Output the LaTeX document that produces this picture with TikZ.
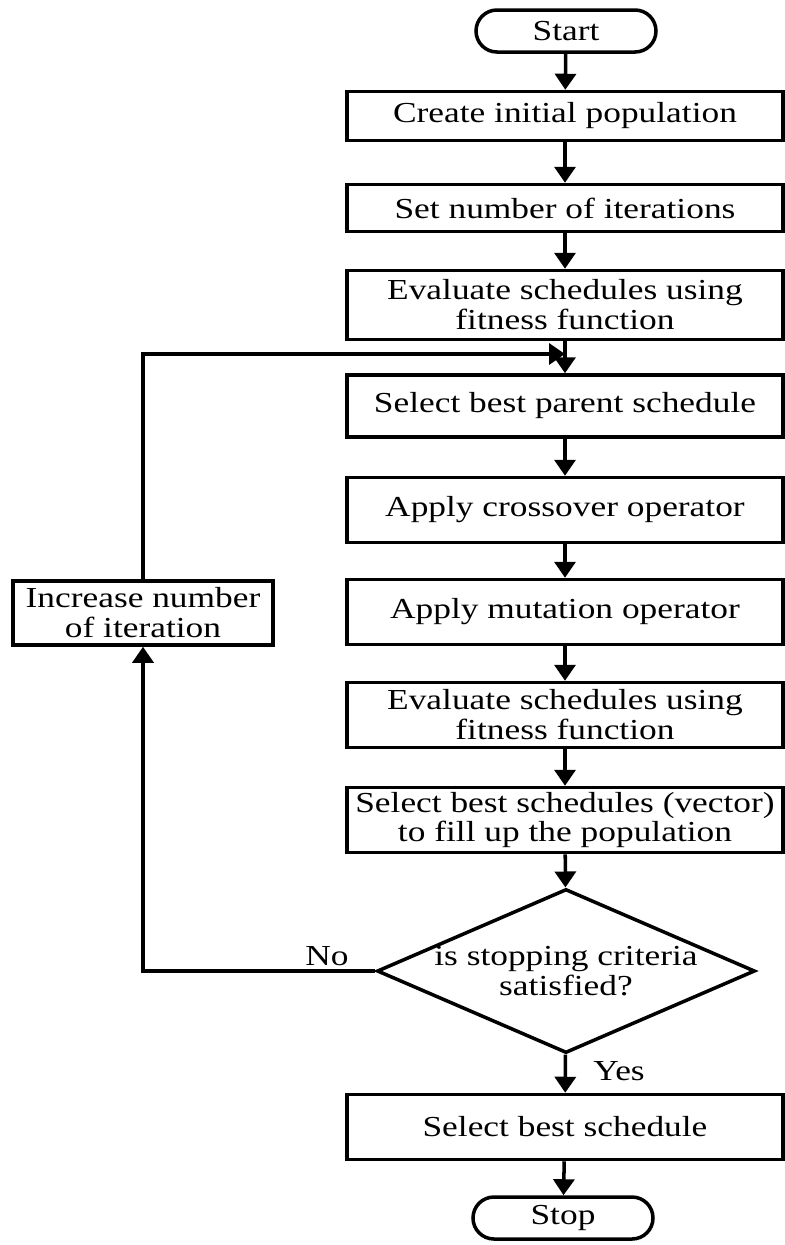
\documentclass[tikz,border=0pt]{standalone}
\usepackage{fontspec}
\setmainfont{Liberation Serif}[FakeStretch=1.22]
\usepackage{tikz}
\usetikzlibrary{arrows.meta, shapes.geometric}

\tikzset{
	txt/.style={font=\fontsize{16.5}{17}\selectfont},
	proc/.style={txt, draw, line width=2pt, minimum width=8.72cm, align=center, inner sep=2pt},
	term/.style={txt, draw, line width=2pt, rounded corners=0.42cm, minimum width=3.6cm, minimum height=0.84cm},
	decide/.style={txt, draw, line width=2pt, shape=diamond, aspect=2.3, align=center, inner xsep=-5pt, inner ysep=-1pt, minimum width=7.56cm, minimum height=3.28cm},
	flow/.style={line width=2pt, -{Triangle[length=0.32cm, width=0.42cm]}}
}

\begin{document}
\begin{tikzpicture}[x=0.2mm, y=-0.2mm]
	\useasboundingbox (0,0) rectangle (785,1245);
	% Nodes:
	\node[term] (start) at (566, 31){Start};
	\node[proc, minimum height=0.98cm] (init) at (565, 116){Create initial population};
	\node[proc, minimum height=0.94cm] (iter) at (565, 208){Set number of iterations};
	\node[proc, minimum height=1.38cm] (eval1) at (565, 305){Evaluate schedules using\\fitness function};
	\node[proc, minimum height=1.24cm] (parent) at (565, 406){Select best parent schedule};
	\node[proc, minimum height=1.3cm] (cross) at (565, 510){Apply crossover operator};
	\node[proc, minimum height=1.3cm] (mut) at (565, 612){Apply mutation operator};
	\node[proc, minimum height=1.3cm] (eval2) at (565, 715){Evaluate schedules using\\fitness function};
	\node[proc, minimum height=1.3cm] (fill) at (565, 820){Select best schedules (vector)\\to fill up the population};
	\node[decide] (crit) at (566, 971){is stopping criteria\\satisfied?};
	\node[proc, minimum height=1.3cm] (best) at (565, 1127){Select best schedule};
	\node[term] (stop) at (563, 1218){Stop};
	\node[proc, minimum width=5.2cm, minimum height=1.28cm] (inc) at (143, 613){Increase number\\of iteration};
	\node[txt] (no) at (327, 956){No};
	\node[txt] (yes) at (619, 1071){Yes};
	\coordinate (join) at (565, 354);

	% Arrows:
	\draw[flow] (start) -- (init);
	\draw[flow] (init) -- (iter);
	\draw[flow] (iter) -- (eval1);
	\draw[flow] (eval1) -- (parent);
	\draw[flow] (parent) -- (cross);
	\draw[flow] (cross) -- (mut);
	\draw[flow] (mut) -- (eval2);
	\draw[flow] (eval2) -- (fill);
	\draw[flow] (fill) -- (crit);
	\draw[flow] (crit) -- (best);
	\draw[flow] (best) -- (stop);
	\draw[flow] (crit.west) -| (inc.south);
	\draw[flow] (inc.north) |- (join);
\end{tikzpicture}
\end{document}
